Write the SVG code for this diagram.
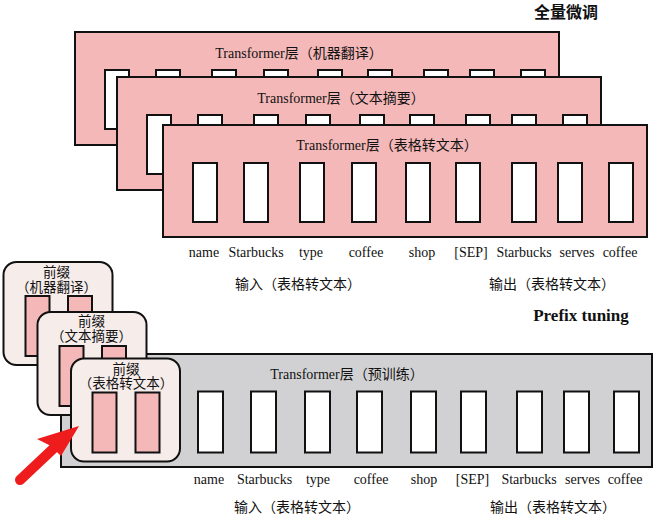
<svg xmlns="http://www.w3.org/2000/svg" width="659" height="519" viewBox="0 0 659 519">
<defs>
<style>
.panel{fill:#f5b8b8;stroke:#111;stroke-width:2}
.gpanel{fill:#d1d1d3;stroke:#111;stroke-width:2}
.wbox{fill:#fff;stroke:#111;stroke-width:2}
.card{fill:#f6ecea;stroke:#111;stroke-width:2}
.pbox{fill:#f5b8b8;stroke:#111;stroke-width:2}
.t{font-family:"Liberation Serif","Noto Sans CJK SC",serif;font-size:14px;fill:#111;text-anchor:middle}
.c{font-family:"Liberation Serif","Noto Sans CJK SC",serif;font-size:13.5px;fill:#111;text-anchor:middle}
.h{font-family:"Noto Sans CJK SC",sans-serif;font-size:16px;font-weight:bold;fill:#111;text-anchor:middle}
.hp{font-family:"Liberation Serif",serif;font-size:17px;font-weight:bold;fill:#111;text-anchor:middle}
</style>
<g id="boxrow">
<rect class="wbox" x="30" y="38" width="24" height="59"/>
<rect class="wbox" x="81" y="38" width="24" height="59"/>
<rect class="wbox" x="137" y="38" width="24" height="59"/>
<rect class="wbox" x="189" y="38" width="24" height="59"/>
<rect class="wbox" x="243" y="38" width="24" height="59"/>
<rect class="wbox" x="293" y="38" width="24" height="59"/>
<rect class="wbox" x="349" y="38" width="24" height="59"/>
<rect class="wbox" x="395" y="38" width="24" height="59"/>
<rect class="wbox" x="446" y="38" width="24" height="59"/>
</g>
</defs>
<rect width="659" height="519" fill="#fff"/>

<text class="h" x="566" y="18">全量微调</text>

<g id="layer-mt" transform="translate(75,32)">
<rect class="panel" x="0" y="0" width="484" height="113"/>
<text class="t" x="224" y="26">Transformer层（机器翻译）</text>
<use href="#boxrow"/>
</g>
<g id="layer-sum" transform="translate(117,77)">
<rect class="panel" x="0" y="0" width="484" height="113"/>
<text class="t" x="224" y="26">Transformer层（文本摘要）</text>
<use href="#boxrow"/>
</g>
<g id="layer-t2t" transform="translate(163,125)">
<rect class="panel" x="0" y="0" width="484" height="112"/>
<text class="t" x="224" y="25">Transformer层（表格转文本）</text>
<use href="#boxrow"/>
</g>

<g id="tokens-top">
<text class="t" x="204" y="257">name</text>
<text class="t" x="256" y="257">Starbucks</text>
<text class="t" x="311" y="257">type</text>
<text class="t" x="366" y="257">coffee</text>
<text class="t" x="422" y="257">shop</text>
<text class="t" x="471" y="257">[SEP]</text>
<text class="t" x="524" y="257">Starbucks</text>
<text class="t" x="577" y="257">serves</text>
<text class="t" x="620" y="257">coffee</text>
<text class="t" x="298" y="289">输入（表格转文本）</text>
<text class="t" x="552" y="289">输出（表格转文本）</text>
</g>

<text class="hp" x="581" y="321">Prefix tuning</text>

<g id="layer-pretrained">
<rect class="gpanel" x="61" y="354" width="591" height="113"/>
<text class="t" x="347" y="379">Transformer层（预训练）</text>
<rect class="wbox" x="198" y="391.5" width="25" height="61"/>
<rect class="wbox" x="251" y="391.5" width="25" height="61"/>
<rect class="wbox" x="305" y="391.5" width="25" height="61"/>
<rect class="wbox" x="357" y="391.5" width="25" height="61"/>
<rect class="wbox" x="411" y="391.5" width="25" height="61"/>
<rect class="wbox" x="461" y="391.5" width="25" height="61"/>
<rect class="wbox" x="517" y="391.5" width="25" height="61"/>
<rect class="wbox" x="564" y="391.5" width="25" height="61"/>
<rect class="wbox" x="614" y="391.5" width="25" height="61"/>
</g>

<g id="prefix-mt" transform="translate(3.5,262)">
<rect class="card" x="0" y="0" width="109" height="103" rx="13"/>
<text class="c" x="53" y="15">前缀</text>
<text class="c" x="53" y="30">（机器翻译）</text>
<rect class="pbox" x="22" y="34" width="24" height="60"/>
<rect class="pbox" x="64.5" y="34" width="24" height="60"/>
</g>
<g id="prefix-sum" transform="translate(37.5,312)">
<rect class="card" x="0" y="0" width="109" height="103" rx="13"/>
<text class="c" x="54" y="14">前缀</text>
<text class="c" x="54" y="28.5">（文本摘要）</text>
<rect class="pbox" x="22" y="34" width="24" height="60"/>
<rect class="pbox" x="64.5" y="34" width="24" height="60"/>
</g>
<g id="prefix-t2t" transform="translate(71,358.5)">
<rect class="card" x="0" y="0" width="109" height="103" rx="13"/>
<text class="c" x="55" y="15">前缀</text>
<text class="c" x="55" y="29.5">（表格转文本）</text>
<rect class="pbox" x="21.5" y="34" width="24" height="60"/>
<rect class="pbox" x="64.5" y="34" width="24" height="60"/>
</g>

<g id="tokens-bottom">
<text class="t" x="209" y="484">name</text>
<text class="t" x="264.5" y="484">Starbucks</text>
<text class="t" x="318" y="484">type</text>
<text class="t" x="371" y="484">coffee</text>
<text class="t" x="424" y="484">shop</text>
<text class="t" x="472.5" y="484">[SEP]</text>
<text class="t" x="529" y="484">Starbucks</text>
<text class="t" x="582.5" y="484">serves</text>
<text class="t" x="625" y="484">coffee</text>
<text class="t" x="297" y="512">输入（表格转文本）</text>
<text class="t" x="553" y="512">输出（表格转文本）</text>
</g>

<g id="connectors">
<line x1="20" y1="480" x2="54" y2="448" stroke="#ee1c1c" stroke-width="10" stroke-linecap="round"/>
<polygon points="79,426 37,439 51,446 61,456" fill="#ee1c1c"/>
</g>
</svg>
